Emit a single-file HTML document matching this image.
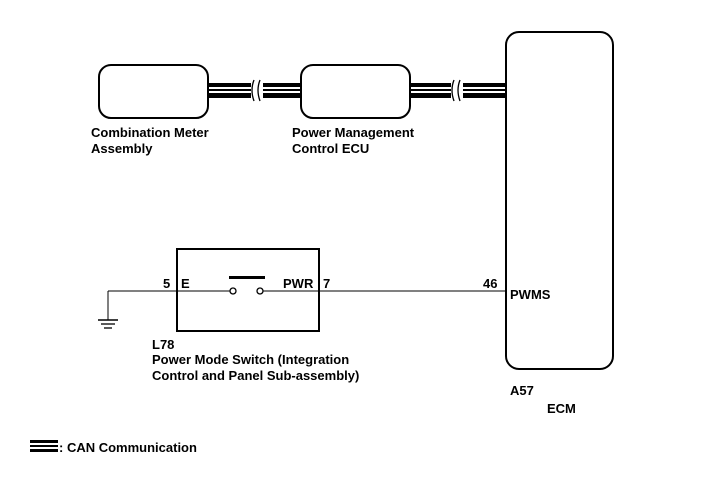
<!DOCTYPE html>
<html><head><style>body{margin:0;background:#fff}</style></head><body>
<svg width="712" height="481" xmlns="http://www.w3.org/2000/svg" font-family="Liberation Sans, Arial, sans-serif" font-size="13" font-weight="bold">
<rect x="0" y="0" width="712" height="481" fill="#fff"/>
<g>
<rect x="208" y="83" width="297" height="4" fill="#000"/>
<rect x="208" y="89" width="297" height="2" fill="#000"/>
<rect x="208" y="93" width="297" height="5" fill="#000"/>
<rect x="251" y="80" width="12" height="21" fill="#fff"/>
<rect x="451" y="80" width="12" height="21" fill="#fff"/>
<path d="M254 80 q-4 10 0 21 M260 80 q-4 10 0 21 M454 80 q-4 10 0 21 M460 80 q-4 10 0 21" stroke="#000" stroke-width="1.3" fill="none"/>
</g>
<rect x="99" y="65" width="109" height="53" rx="12" fill="#fff" stroke="#000" stroke-width="2"/>
<rect x="301" y="65" width="109" height="53" rx="12" fill="#fff" stroke="#000" stroke-width="2"/>
<rect x="506" y="32" width="107" height="337" rx="13" fill="#fff" stroke="#000" stroke-width="2"/>
<text x="91" y="137">Combination Meter</text>
<text x="91" y="153">Assembly</text>
<text x="292" y="137">Power Management</text>
<text x="292" y="153">Control ECU</text>
<rect x="177" y="249" width="142" height="82" fill="none" stroke="#000" stroke-width="2"/>
<line x1="108" y1="291" x2="230" y2="291" stroke="#000" stroke-width="1"/>
<line x1="263" y1="291" x2="506" y2="291" stroke="#000" stroke-width="1"/>
<circle cx="233" cy="291" r="3" fill="#fff" stroke="#000" stroke-width="1.3"/>
<circle cx="260" cy="291" r="3" fill="#fff" stroke="#000" stroke-width="1.3"/>
<rect x="229" y="276" width="36" height="3" fill="#000"/>
<line x1="108" y1="291" x2="108" y2="320" stroke="#000"/>
<line x1="98" y1="320" x2="118" y2="320" stroke="#000" stroke-width="1.5"/>
<line x1="101" y1="324" x2="115" y2="324" stroke="#000" stroke-width="1.3"/>
<line x1="104" y1="328" x2="112" y2="328" stroke="#000" stroke-width="1.3"/>
<text x="163" y="288">5</text>
<text x="181" y="288">E</text>
<text x="283" y="288">PWR</text>
<text x="323" y="288">7</text>
<text x="483" y="288">46</text>
<text x="510" y="299">PWMS</text>
<text x="152" y="349">L78</text>
<text x="152" y="364">Power Mode Switch (Integration</text>
<text x="152" y="380">Control and Panel Sub-assembly)</text>
<text x="510" y="395">A57</text>
<text x="547" y="413">ECM</text>
<rect x="30" y="440" width="28" height="3" fill="#000"/>
<rect x="30" y="445" width="28" height="2" fill="#000"/>
<rect x="30" y="449" width="28" height="3" fill="#000"/>
<text x="59" y="452">: CAN Communication</text>
</svg>
</body></html>
